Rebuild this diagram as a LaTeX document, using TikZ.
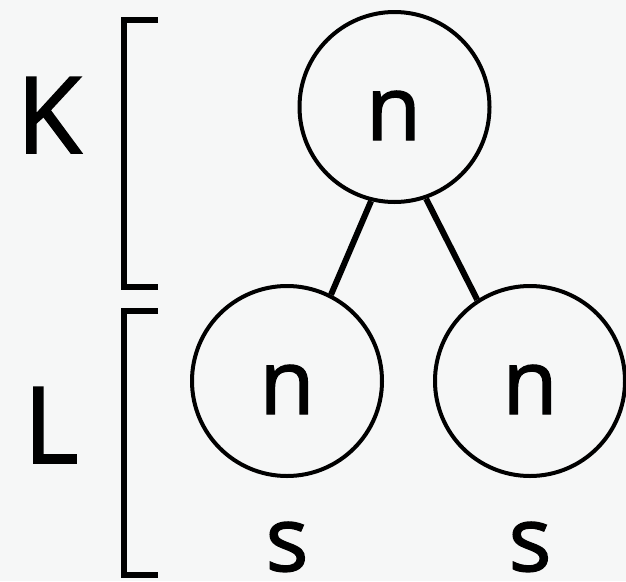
\documentclass[tikz,border=0pt]{standalone}
\usepackage{fontspec}
\setmainfont[FakeBold=1.6]{Open Sans}
\definecolor{bgc}{RGB}{246,247,247}
\tikzset{
  tnode/.style={circle, draw=black, line width=4pt, minimum size=190pt, inner sep=0pt},
  edgeline/.style={line width=6pt},
  bracketline/.style={line width=6pt, line join=miter},
  biglabel/.style={inner sep=0pt, anchor=base, font=\fontsize{106}{110}\selectfont},
  smalllabel/.style={inner sep=0pt, anchor=base, font=\fontsize{90}{94}\selectfont}
}
\begin{document}
\begin{tikzpicture}[x=1pt,y=-1pt]
\fill[bgc] (0,0) rectangle (626,581);
\useasboundingbox (0,0) rectangle (626,581);
\node[tnode] (top) at (394.5,107) {};
\node[tnode] (left) at (287,381) {};
\node[tnode] (right) at (530,381) {};
\node[smalllabel] (ntop) at (393.5,140) {n};
\node[smalllabel] (nleft) at (287,414) {n};
\node[smalllabel] (nright) at (530,414) {n};
\draw[edgeline] (top.256) -- (left.63);
\draw[edgeline] (top.289) -- (right.123);
\node[smalllabel] (s1) at (287,571) {s};
\node[smalllabel] (s2) at (530,571) {s};
\node[biglabel] (K) at (49,153) {K};
\node[biglabel] (L) at (51,463) {L};
\coordinate (k1) at (158,20);
\coordinate (k2) at (124,20);
\coordinate (k3) at (124,287);
\coordinate (k4) at (158,287);
\draw[bracketline] (k1) -- (k2) -- (k3) -- (k4);
\coordinate (l1) at (158,311);
\coordinate (l2) at (124,311);
\coordinate (l3) at (124,575);
\coordinate (l4) at (158,575);
\draw[bracketline] (l1) -- (l2) -- (l3) -- (l4);
\end{tikzpicture}
\end{document}
